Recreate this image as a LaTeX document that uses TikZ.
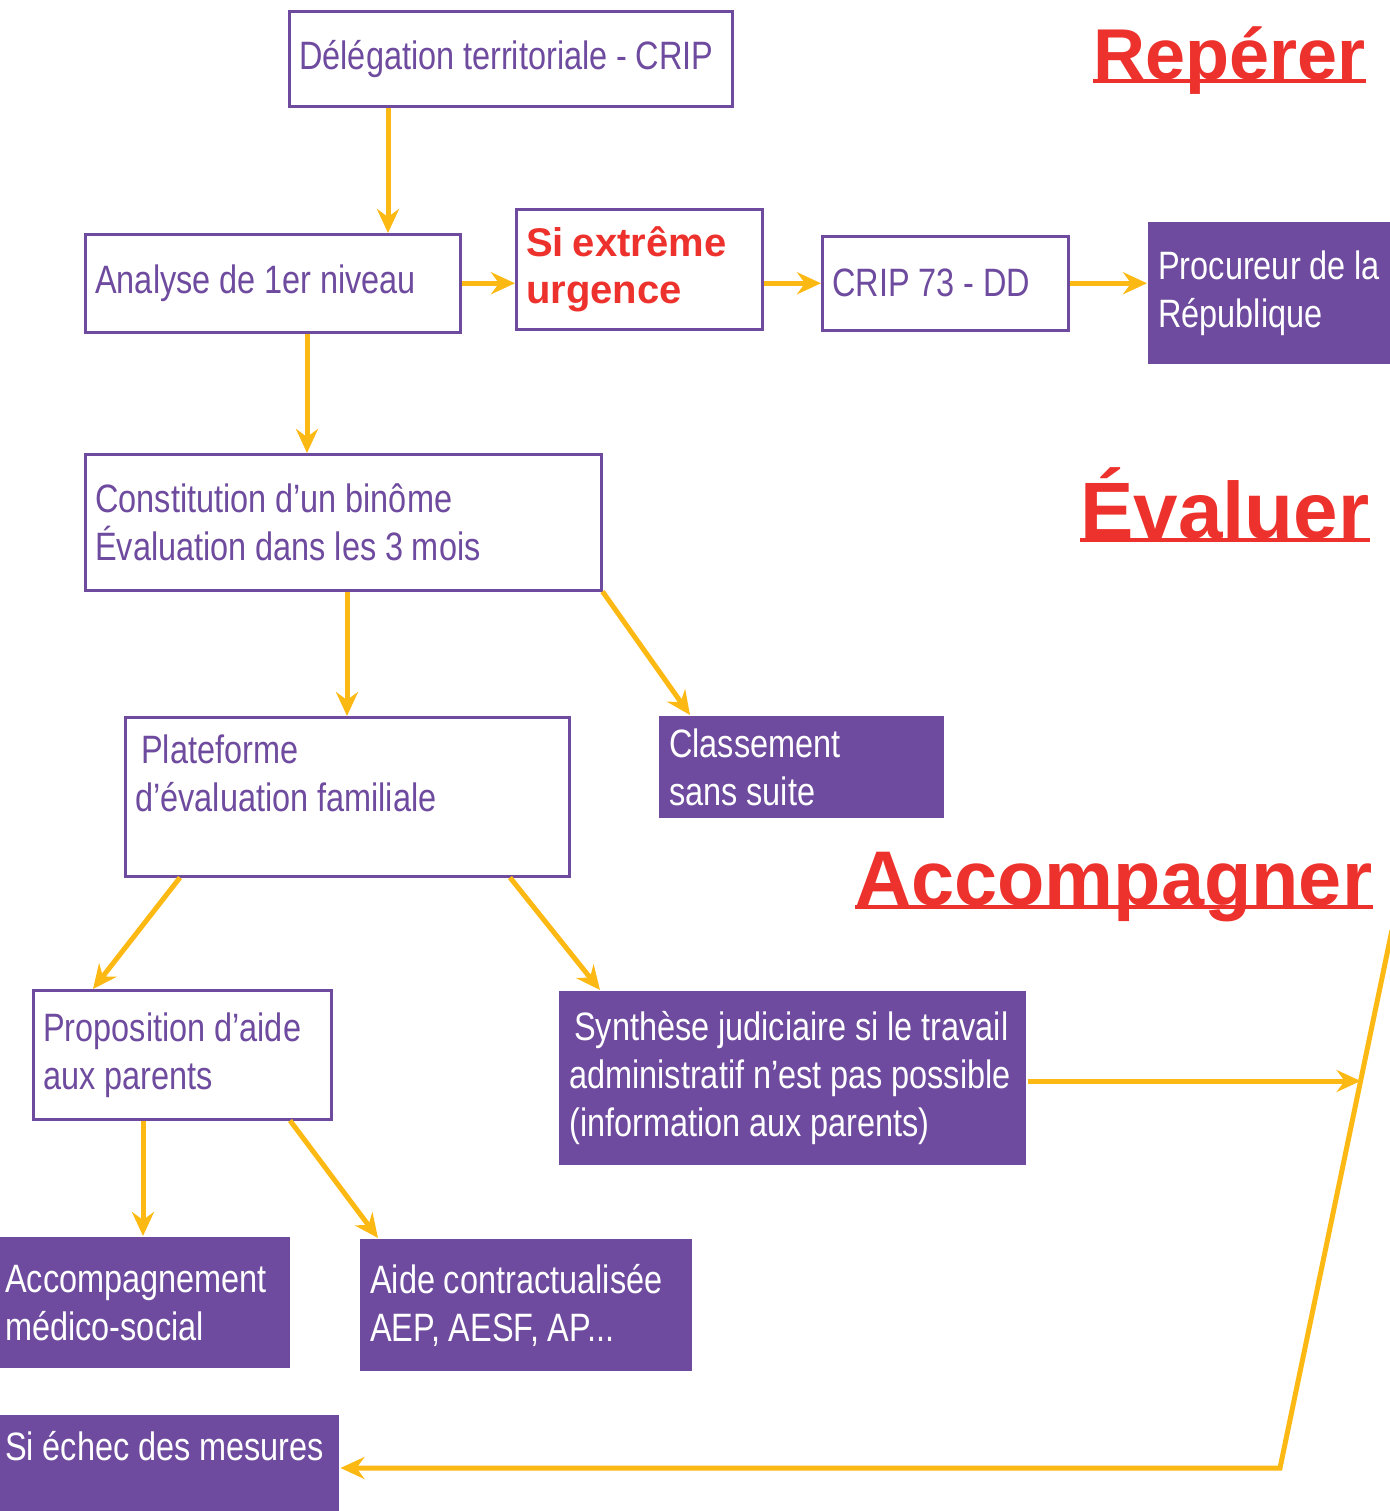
\documentclass[tikz,border=0pt]{standalone}
\usepackage{fontspec}
\setmainfont{Liberation Sans}[FakeStretch=0.82]
\newfontfamily\widefont{Liberation Sans}
\usetikzlibrary{arrows.meta}
\definecolor{box_purple}{RGB}{110,75,158}
\definecolor{edge_orange}{RGB}{253,185,19}
\definecolor{title_red}{RGB}{237,50,45}

\begin{document}
\begin{tikzpicture}[x=0.5pt,y=-0.5pt,>={Stealth[length=12pt,width=11pt,inset=4pt]}]
    \tikzstyle{wbox}=[draw=box_purple, line width=1.25pt, fill=white, anchor=north west, align=left, inner xsep=5pt, inner ysep=0pt, text=box_purple, font=\fontsize{19.8pt}{24pt}\selectfont, execute at begin node={\spaceskip=4.4pt\relax}]
    \tikzstyle{pbox}=[wbox, draw=none, fill=box_purple, text=white]
    \tikzstyle{ttl}=[anchor=base west, inner sep=0pt, text=title_red]
    \tikzstyle{flow}=[->, draw=edge_orange, line width=2.5pt]

    \useasboundingbox (0,0) rectangle (1389,1511);

    \node[wbox, text width=211.5pt, minimum height=47.5pt] (del)  at (288,10)   {\mbox{Délégation territoriale - CRIP}};
    \node[wbox, text width=177.5pt, minimum height=49pt]   (ana)  at (84,233)   {\mbox{Analyse de 1er niveau}};
    \node[wbox, text width=113pt, minimum height=60pt, text=title_red,
          font=\fontsize{20pt}{23.5pt}\selectfont\widefont\bfseries] (urg) at (515,208) {\mbox{Si extrême}\\\mbox{urgence}};
    \node[wbox, text width=113pt, minimum height=47pt]     (crip) at (821,235)  {\mbox{CRIP 73 - DD}};
    \node[pbox, text width=115pt, minimum height=71pt]     (proc) at (1147,221) {\mbox{Procureur de la}\\\mbox{République}};
    \node[wbox, text width=248pt, minimum height=68pt]     (cons) at (84,453)   {\mbox{Constitution d’un binôme}\\\mbox{Évaluation dans les 3 mois}};
    \node[wbox, text width=212pt, minimum height=79.5pt]   (plat) at (124,716)  {\hspace*{3pt}\mbox{Plateforme}\\\mbox{d’évaluation familiale}\\\mbox{}};
    \node[pbox, text width=132.5pt, minimum height=51pt]   (cls)  at (658,715)  {\mbox{Classement}\\\mbox{sans suite}};
    \node[wbox, text width=139pt, minimum height=64.5pt]   (prop) at (32,989)   {\mbox{Proposition d’aide}\\\mbox{aux parents}};
    \node[pbox, text width=223.5pt, minimum height=87pt]   (syn)  at (558,990)  {\hspace*{2.5pt}\mbox{Synthèse judiciaire si le travail}\\\mbox{administratif n’est pas possible}\\\mbox{(information aux parents)}};
    \node[pbox, text width=137.5pt, minimum height=65.5pt] (acc)  at (-6,1236)  {\mbox{Accompagnement}\\\mbox{médico-social}};
    \node[pbox, text width=156pt, minimum height=66pt]     (aide) at (359,1238) {\mbox{Aide contractualisée}\\\mbox{AEP, AESF, AP...}};
    \node[pbox, text width=162pt, minimum height=55pt]     (ech)  at (-6,1414)  {\mbox{Si échec des mesures}\\\mbox{}};

    % titres
    \node[ttl, font=\fontsize{36pt}{40pt}\selectfont\widefont\bfseries]    (rep)  at (1093,79)  {Repérer};
    \node[ttl, font=\fontsize{40pt}{44pt}\selectfont\widefont\bfseries]    (eva)  at (1080,538) {Évaluer};
    \node[ttl, font=\fontsize{38.75pt}{42pt}\selectfont\widefont\bfseries] (accp) at (855,905)  {Accompagner};
    \foreach \t in {rep,eva,accp}
      \draw[title_red, line width=2pt] ([yshift=-1pt]\t.base west) -- ([yshift=-1pt]\t.base east);

    \coordinate (top)  at (1392,930);
    \coordinate (bend) at (1280,1468);
    \coordinate (jn)   at (1360.6,1081);

    \path
     ([xshift=50pt]del.south west) edge[flow] ([xshift=50pt]del.south west |- ana.north)
     (ana.east) edge[flow] (ana.east -| urg.west)
     (urg.east |- crip.west) edge[flow] (crip.west)
     (crip.east) edge[flow] (crip.east -| proc.west)
     ([xshift=111.5pt]ana.south west) edge[flow] ([xshift=111.5pt]cons.north west)
     ([xshift=131.5pt]cons.south west) edge[flow] ([xshift=131.5pt]cons.south west |- plat.north)
     (cons.south east) edge[flow] ([xshift=16pt]cls.north west)
     ([xshift=28pt]plat.south west) edge[flow] ([xshift=30.5pt]prop.north west)
     ([xshift=193pt]plat.south west) edge[flow] ([xshift=21pt]syn.north west)
     ([xshift=55.5pt]prop.south west) edge[flow] ([xshift=55.5pt]prop.south west |- acc.north)
     ([xshift=129pt]prop.south west) edge[flow] ([xshift=9.5pt]aide.north west)
     (syn.east |- jn) edge[flow] (jn)
     ;
    \draw[flow] (top) -- (bend) -- (bend -| ech.east);
\end{tikzpicture}
\end{document}
